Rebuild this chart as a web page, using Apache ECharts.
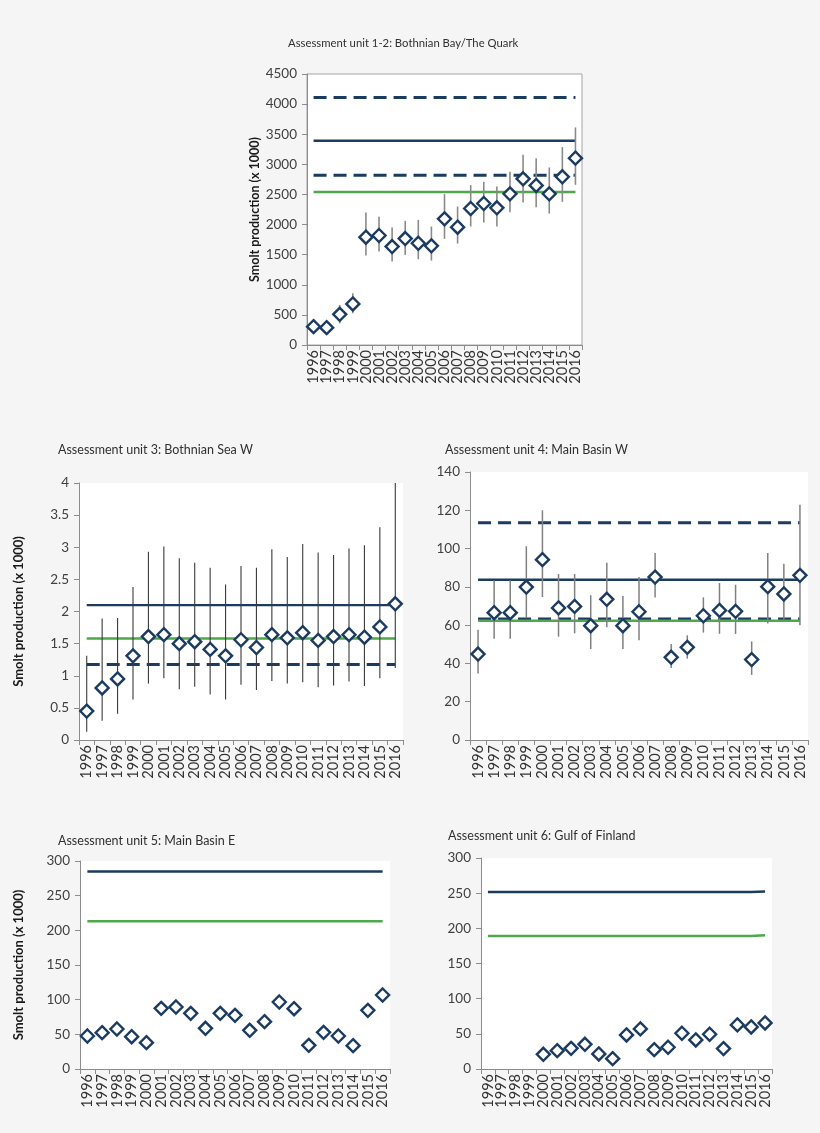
<!DOCTYPE html>
<html>
<head>
<meta charset="utf-8">
<script src="https://cdn.jsdelivr.net/npm/echarts@6/dist/echarts.min.js"></script>
<style>
html,body{margin:0;padding:0;background:#f5f5f5;}
#c{width:820px;height:1133px;}
</style>
</head>
<body>
<div id="c"></div>
<script>
// ---------- DATA ----------
const years = ['1996','1997','1998','1999','2000','2001','2002','2003','2004','2005','2006','2007','2008','2009','2010','2011','2012','2013','2014','2015','2016'];

// Assessment unit 1-2: Bothnian Bay/The Quark
const au12Title = 'Assessment unit 1-2: Bothnian Bay/The Quark';
const au12Est  = [305,288,510,682,1790,1818,1635,1768,1690,1646,2095,1956,2267,2350,2278,2510,2760,2649,2510,2793,3103];
const au12Low  = [null,null,360,526,1485,1552,1385,1496,1424,1402,1762,1685,1967,2034,1967,2206,2366,2288,2183,2377,2660];
const au12High = [null,null,665,860,2200,2128,1950,2061,2078,1967,2505,2300,2655,2710,2632,2876,3159,3103,2948,3286,3613];
const au12UpperDash = 4110, au12Target = 3390, au12LowerDash = 2820, au12Green = 2540;

// Assessment unit 3: Bothnian Sea W
const au3Title = 'Assessment unit 3: Bothnian Sea W';
const au3Est  = [0.45,0.81,0.95,1.31,1.61,1.64,1.50,1.53,1.41,1.31,1.56,1.44,1.64,1.59,1.67,1.55,1.61,1.64,1.60,1.76,2.12];
const au3Low  = [0.13,0.30,0.41,0.63,0.88,0.96,0.79,0.83,0.71,0.63,0.86,0.78,0.92,0.88,0.90,0.82,0.85,0.91,0.84,0.96,1.12];
const au3High = [1.31,1.89,1.90,2.38,2.93,3.01,2.83,2.76,2.68,2.42,2.71,2.68,2.97,2.85,3.05,2.92,2.88,2.98,3.03,3.31,4.40];
const au3Target = 2.10, au3Green = 1.58, au3LowerDash = 1.175;

// Assessment unit 4: Main Basin W
const au4Title = 'Assessment unit 4: Main Basin W';
const au4Est  = [44.9,66.5,66.5,79.9,94.2,69.0,69.8,59.7,73.5,59.7,67.0,85.1,43.2,48.4,64.9,67.7,67.2,42.0,80.1,76.3,86.0];
const au4Low  = [34.7,52.9,52.9,63.7,74.7,54.0,55.7,47.5,58.9,47.5,52.1,74.5,37.6,42.5,56.1,55.5,55.4,34.0,60.9,62.9,59.9];
const au4High = [57.6,83.4,83.4,101.2,120.0,86.7,86.7,75.6,92.6,75.2,85.1,97.7,50.1,54.7,74.5,82.0,81.1,51.5,97.7,92.1,122.9];
const au4UpperDash = 113.5, au4Target = 83.7, au4LowerDash = 63.2, au4Green = 62.3;

// Assessment unit 5: Main Basin E
const au5Title = 'Assessment unit 5: Main Basin E';
const au5Est = [47.6,52.4,57.7,46.6,38.0,87.5,89.4,80.3,58.7,80.3,77.4,55.8,68.3,96.6,87.0,34.1,52.9,47.6,33.7,84.6,106.7];
const au5Target = 285, au5Green = 213;

// Assessment unit 6: Gulf of Finland
const au6Title = 'Assessment unit 6: Gulf of Finland';
const au6Est = [null,null,null,null,20.9,26.1,29.4,35.1,21.4,14.7,48.4,57.0,27.5,30.9,50.8,41.3,49.4,29.0,62.7,59.8,65.5];
const au6TargetLine = [251.5,251.5,251.5,251.5,251.5,251.5,251.5,251.5,251.5,251.5,251.5,251.5,251.5,251.5,251.5,251.5,251.5,251.5,251.5,251.5,252.5];
const au6GreenLine  = [189,189,189,189,189,189,189,189,189,189,189,189,189,189,189,189,189,189,189,189,190];

const yName = 'Smolt production (x 1000)';

// ---------- STYLE ----------
const NAVY = '#1c3b61';
const GREEN = '#4fa84a';
const AXIS = '#8c8c8c';
const TXT = '#404040';
const FONT = 'Lato, "Open Sans", sans-serif';

const flat = v => years.map(() => v);

const grids = [
  {left:307, top:74,  width:275, height:271},
  {left:79,  top:483, width:324, height:257},
  {left:470, top:472, width:338, height:268},
  {left:80,  top:861, width:310, height:208},
  {left:481, top:858, width:291, height:211}
];
const titles = [
  {text:au12Title, left:288, top:38, size:11.3},
  {text:au3Title,  left:58,  top:443, size:12.5},
  {text:au4Title,  left:445, top:443, size:12.5},
  {text:au5Title,  left:58,  top:834, size:12.5},
  {text:au6Title,  left:448, top:829, size:12.5}
];
const yAx = [
  {min:0,max:4500,interval:500, name:yName, nameGap:46, nameSize:12.5},
  {min:0,max:4,interval:0.5, name:yName, nameGap:54, nameSize:13},
  {min:0,max:140,interval:20, name:'', nameGap:0, nameSize:11},
  {min:0,max:300,interval:50, name:yName, nameGap:55, nameSize:13},
  {min:0,max:300,interval:50, name:'', nameGap:0, nameSize:11}
];

const option = {
  backgroundColor:'#f5f5f5',
  animation:false,
  title: titles.map(t => ({text:t.text, left:t.left, top:t.top, padding:0,
    textStyle:{fontFamily:FONT, fontSize:t.size, fontWeight:'normal', color:'#303030'}})),
  grid: grids.map((g,i) => Object.assign({show:true, backgroundColor:'#ffffff',
    borderColor: i===0 ? '#a6a6a6' : 'transparent', borderWidth: i===0 ? 1 : 0}, g)),
  xAxis: grids.map((g,i) => ({
    type:'category', gridIndex:i, data:years, boundaryGap:true,
    axisLine:{lineStyle:{color:AXIS, width:1}},
    axisTick:{show:true, inside:false, length:5, alignWithLabel:false, interval:0, lineStyle:{color:AXIS}},
    axisLabel:{rotate:90, interval:0, margin:5, color:'#333333', fontFamily:FONT, fontSize:14.5},
    splitLine:{show:false}
  })),
  yAxis: yAx.map((a,i) => ({
    type:'value', gridIndex:i, min:a.min, max:a.max, interval:a.interval,
    name:a.name, nameLocation:'middle', nameGap:a.nameGap,
    nameTextStyle:{fontFamily:FONT, fontWeight:'bold', fontSize:a.nameSize, color:'#1a1a1a'},
    axisLine:{show:true, lineStyle:{color:AXIS, width:1}},
    axisTick:{show:true, inside:false, length:5, lineStyle:{color:AXIS}},
    axisLabel:{margin:10, color:TXT, fontFamily:FONT, fontSize:13.5, formatter: v => String(v)},
    splitLine:{show:false}
  })),
  series: []
};

function refLine(i, data, color, width, dashed, z) {
  option.series.push({
    type:'line', xAxisIndex:i, yAxisIndex:i, data:data, symbol:'none', silent:true, z:z||2,
    lineStyle:{color:color, width:width, type: dashed ? [13,7] : 'solid', cap:'butt'}
  });
}
function errBars(i, low, high, color, width) {
  const d = years.map((y,k) => [k, low[k], high[k]]).filter(r => r[1] != null && r[2] != null);
  option.series.push({
    type:'custom', xAxisIndex:i, yAxisIndex:i, data:d, z:3, silent:true, clip:true,
    encode:{x:0, y:[1,2]},
    renderItem: function(params, api) {
      const p1 = api.coord([api.value(0), api.value(1)]);
      const p2 = api.coord([api.value(0), api.value(2)]);
      return {type:'line', shape:{x1:p1[0], y1:p1[1], x2:p2[0], y2:p2[1]},
        style:{stroke:color, lineWidth:width}};
    }
  });
}
function points(i, est) {
  option.series.push({
    type:'scatter', xAxisIndex:i, yAxisIndex:i, data:est, z:5,
    symbol:'diamond', symbolSize:[13,13],
    itemStyle:{color:'#ffffff', borderColor:NAVY, borderWidth:2.4, opacity:1}
  });
}

// Panel 1
refLine(0, flat(au12UpperDash), NAVY, 3, true);
refLine(0, flat(au12Target), NAVY, 2.5, false);
refLine(0, flat(au12LowerDash), NAVY, 3, true);
refLine(0, flat(au12Green), GREEN, 2.5, false);
errBars(0, au12Low, au12High, '#8a8a8a', 1.6);
points(0, au12Est);

// Panel 3
refLine(1, flat(au3Target), NAVY, 2.2, false);
refLine(1, flat(au3Green), GREEN, 2.5, false);
refLine(1, flat(au3LowerDash), NAVY, 3, true);
errBars(1, au3Low, au3High, '#3a3a3a', 1.1);
points(1, au3Est);

// Panel 4
refLine(2, flat(au4UpperDash), NAVY, 3, true);
refLine(2, flat(au4Target), NAVY, 2.5, false);
refLine(2, flat(au4LowerDash), NAVY, 3, true);
refLine(2, flat(au4Green), GREEN, 2.5, false, 2.5);
errBars(2, au4Low, au4High, '#808080', 1.5);
points(2, au4Est);

// Panel 5
refLine(3, flat(au5Target), NAVY, 2.5, false);
refLine(3, flat(au5Green), GREEN, 2.5, false);
points(3, au5Est);

// Panel 6
refLine(4, au6TargetLine, NAVY, 2.5, false);
refLine(4, au6GreenLine, GREEN, 2.5, false);
points(4, au6Est);

const chart = echarts.init(document.getElementById('c'), null, {renderer:'canvas'});
chart.setOption(option);
</script>
</body>
</html>
